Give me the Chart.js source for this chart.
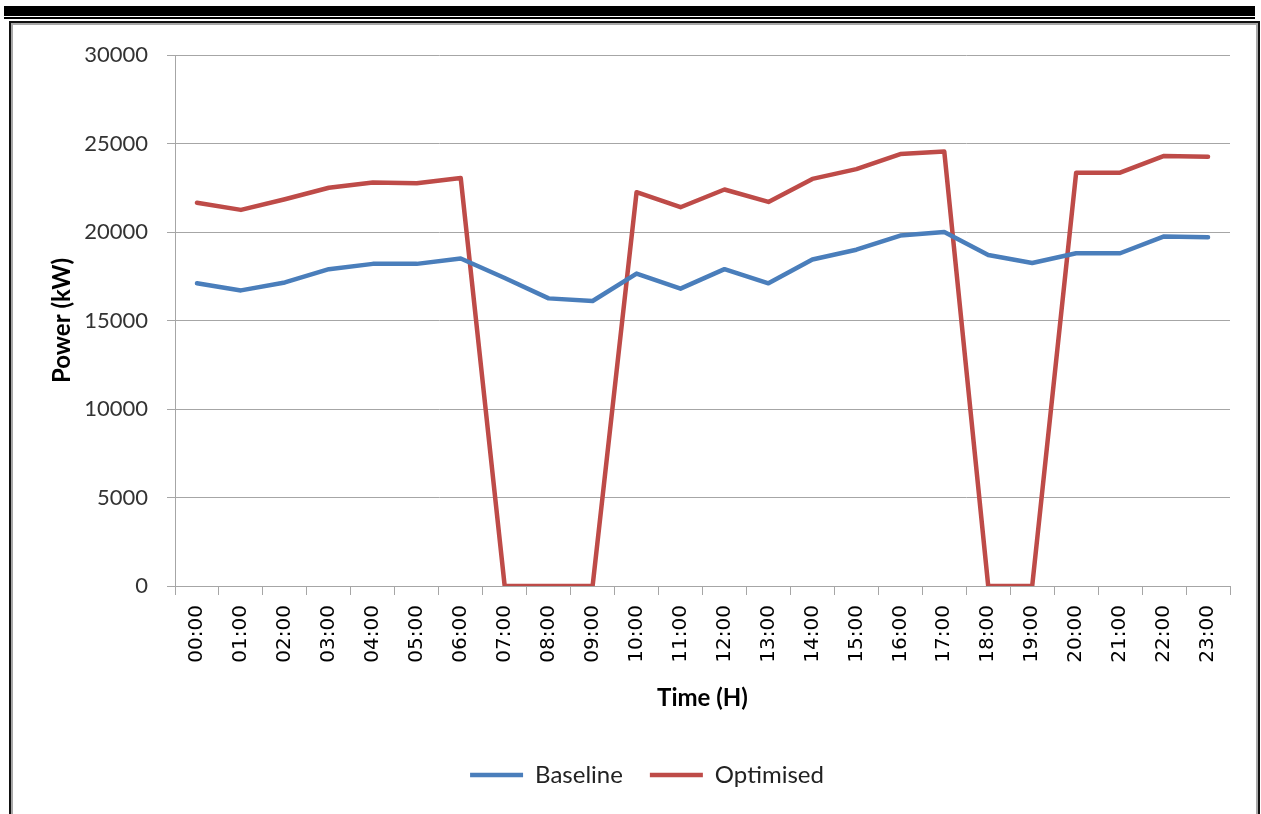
<!DOCTYPE html>
<html>
<head>
<meta charset="utf-8">
<title>Power profile</title>
<script src="https://cdn.jsdelivr.net/npm/chart.js@4.4.1/dist/chart.umd.min.js"></script>
<style>
  html, body { margin: 0; padding: 0; background: #fff; }
  body { width: 1261px; height: 814px; position: relative; overflow: hidden; }
  .rule-thick { position: absolute; left: 4px; top: 6px; width: 1251px; height: 10px; background: #000; }
  .rule-thin { position: absolute; left: 4px; top: 17px; width: 1251px; height: 2px; background: #000; }
  .frame { position: absolute; left: 9px; top: 21px; width: 1247px; height: 820px;
           border: 2px solid #111; box-shadow: inset 0 0 0 2px #a8a8a8; background: #fff; }
  #chart-wrap { position: absolute; left: 0; top: 0; width: 1261px; height: 814px; }
</style>
</head>
<body>
<div class="rule-thick"></div>
<div class="rule-thin"></div>
<div class="frame"></div>
<div id="chart-wrap"><canvas id="powerChart" width="1261" height="814"></canvas></div>
<script>
// Hourly labels for the day
const hours = ['00:00','01:00','02:00','03:00','04:00','05:00','06:00','07:00','08:00','09:00',
               '10:00','11:00','12:00','13:00','14:00','15:00','16:00','17:00','18:00','19:00',
               '20:00','21:00','22:00','23:00'];

// Power demand (kW) for each hour
const baseline = [17100, 16700, 17150, 17900, 18200, 18200, 18500, 17400, 16250, 16100,
                  17650, 16800, 17900, 17100, 18450, 19000, 19800, 20000, 18700, 18250,
                  18800, 18800, 19750, 19700];
const optimised = [21650, 21250, 21850, 22500, 22800, 22750, 23050, 0, 0, 0,
                   22250, 21400, 22400, 21700, 23000, 23550, 24400, 24550, 0, 0,
                   23350, 23350, 24300, 24250];

// Value axis ticks
const yMin = 0, yMax = 30000, yStep = 5000;

const gridGrey = '#a6a6a6';

new Chart(document.getElementById('powerChart'), {
  type: 'line',
  data: {
    labels: hours,
    datasets: [
      { label: 'Baseline', data: baseline, borderColor: '#4a7ebb', backgroundColor: '#4a7ebb',
        borderWidth: 4.5, pointRadius: 0, tension: 0, borderJoinStyle: 'round', borderCapStyle: 'round' },
      { label: 'Optimised', data: optimised, borderColor: '#be4b48', backgroundColor: '#be4b48',
        borderWidth: 4.5, pointRadius: 0, tension: 0, borderJoinStyle: 'round', borderCapStyle: 'round' }
    ]
  },
  options: {
    responsive: false,
    animation: false,
    events: [],
    layout: { padding: { left: 64, right: 31, top: 55, bottom: 17 } },
    plugins: {
      tooltip: { enabled: false },
      legend: {
        position: 'bottom',
        labels: {
          usePointStyle: true,
          pointStyle: 'line',
          pointStyleWidth: 53,
          padding: 27,
          color: '#222',
          font: { family: 'Lato', size: 24 }
        }
      }
    },
    scales: {
      x: {
        type: 'category',
        offset: true,
        afterFit: (s) => { s.height = 150; },
        grid: { display: true, drawOnChartArea: false, drawTicks: true, tickLength: 9, color: gridGrey, offset: true },
        border: { display: true, color: gridGrey, width: 1 },
        ticks: { minRotation: 90, maxRotation: 90, autoSkip: false, padding: 10, color: '#000',
                 font: { family: 'DejaVu Sans', size: 20 } },
        title: { display: true, text: 'Time (H)', color: '#000',
                 font: { family: 'Lato', size: 24, weight: 'bold' }, padding: { top: 0, bottom: 23 } }
      },
      y: {
        min: yMin, max: yMax,
        afterFit: (s) => { s.width = 111; },
        ticks: { stepSize: yStep, padding: 19, color: '#333', font: { family: 'Lato', size: 22 },
                 callback: (v) => String(v) },
        grid: { color: gridGrey, tickLength: 8, lineWidth: 1 },
        border: { display: true, color: gridGrey, width: 1 },
        title: { display: true, text: 'Power (kW)', color: '#000',
                 font: { family: 'Lato', size: 24, weight: 'bold' }, padding: { top: -16, bottom: 0 } }
      }
    }
  }
});
</script>
</body>
</html>
